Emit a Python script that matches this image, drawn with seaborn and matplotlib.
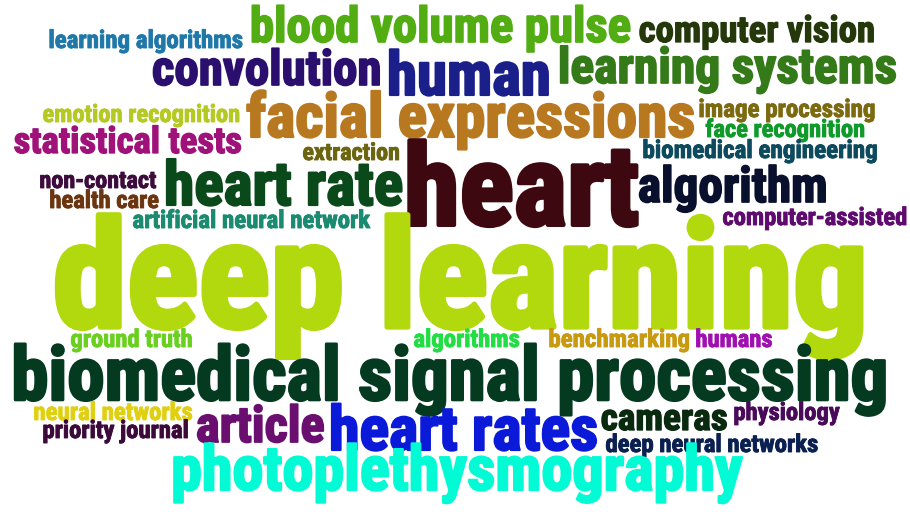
import matplotlib
matplotlib.use("Agg")
import matplotlib.pyplot as plt
import matplotlib.patheffects as pe
from matplotlib import font_manager
import seaborn as sns

# ==========================================
# WORD CLOUD DATA
# ==========================================
words = [
    "learning algorithms", "blood volume pulse", "computer vision", "convolution",
    "human", "learning systems", "facial expressions", "emotion recognition",
    "statistical tests", "extraction", "image processing", "face recognition",
    "biomedical engineering", "heart", "heart rate", "non-contact", "health care",
    "artificial neural network", "algorithm", "computer-assisted", "deep learning",
    "ground truth", "algorithms", "benchmarking", "humans",
    "biomedical signal processing", "neural networks", "priority journal", "article",
    "heart rates", "cameras", "physiology", "deep neural networks", "photoplethysmography",
]

colors = [
    "#1f78a9", "#52ad13", "#24380b", "#2b0f6e",
    "#1a1f8a", "#347a18", "#b87820", "#b5c923",
    "#a0127a", "#6b6510", "#7c6a10", "#0f9a2a",
    "#0d4a5e", "#3e0810", "#0a4a1a", "#3d0c3d", "#6b3510",
    "#1a8a70", "#08102e", "#5e0a6e", "#b2d80e",
    "#6ad020", "#22dd44", "#c89a10", "#a010b0",
    "#033a20", "#e0d010", "#3c0a3a", "#6a0e70",
    "#0a1ad8", "#0a2a10", "#4a0a5a", "#0a2050", "#02fbd5",
]

# layout: left / right edge and baseline in pixels (origin top-left)
x_left = [48, 249, 638, 151, 386, 557, 245, 42, 13, 302, 698, 705, 642, 402, 163, 39, 49,
          132, 637, 722, 50, 70, 413, 548, 695, 10, 33, 42, 195, 328, 600, 733, 605, 170]
x_right = [243, 632, 875, 383, 552, 897, 695, 240, 242, 400, 875, 865, 877, 640, 403, 157, 159,
           370, 828, 907, 867, 193, 520, 690, 773, 887, 193, 189, 325, 598, 728, 840, 818, 742]
baseline = [48, 42, 42, 85, 95, 83, 137, 122, 153, 160, 117, 137, 158, 225, 205, 188, 208,
            228, 202, 225, 327, 347, 347, 347, 347, 400, 420, 438, 442, 450, 430, 420, 452, 490]

W, H = 910, 512

# pick a condensed bold face if one is installed
available = {f.name for f in font_manager.fontManager.ttflist}
family = "DejaVu Sans"
for cand in ["Roboto Condensed", "Liberation Sans Narrow", "DejaVu Sans Condensed", "Roboto"]:
    if cand in available:
        family = cand
        break

sns.set_theme(style="white")
plt.rcParams["font.family"] = [family, "DejaVu Sans"]

fig = plt.figure(figsize=(W / 100, H / 100), dpi=100)
ax = fig.add_axes([0, 0, 1, 1])
ax.set_xlim(0, W)
ax.set_ylim(H, 0)
ax.axis("off")
sns.despine(ax=ax, left=True, bottom=True)

texts = []
for w, c, x0, y in zip(words, colors, x_left, baseline):
    t = ax.text(x0, y, w, color=c, fontsize=20, fontweight="bold",
                ha="left", va="baseline")
    texts.append(t)

# scale each word so it spans its box width, then thicken strokes (Impact-like)
fig.canvas.draw()
renderer = fig.canvas.get_renderer()
for t, c, x0, x1 in zip(texts, colors, x_left, x_right):
    bb = t.get_window_extent(renderer)
    fs = 20 * (x1 - x0) / bb.width
    lw = 0.035 * fs
    fs = 20 * (x1 - x0 - lw * 100 / 72) / bb.width
    t.set_fontsize(fs)
    t.set_x(x0 + lw * 100 / 72 / 2)
    t.set_path_effects([pe.withStroke(linewidth=lw, foreground=c)])

fig.savefig("out.png", dpi=100, facecolor="white")
